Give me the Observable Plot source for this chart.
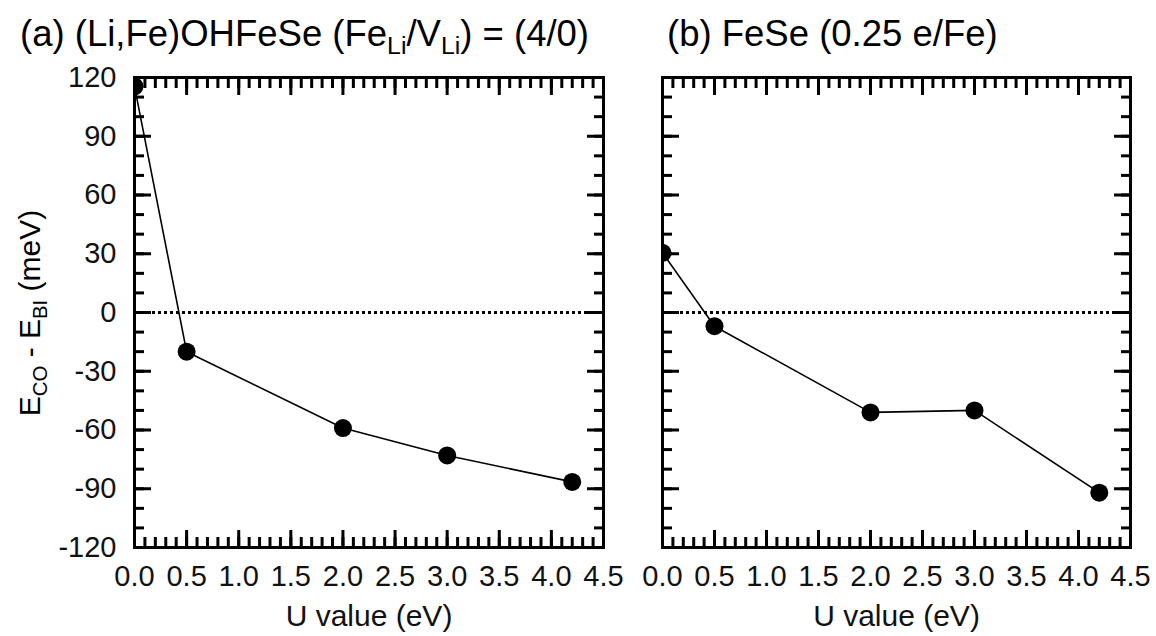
<!DOCTYPE html>
<html>
<head>
<meta charset="utf-8">
<script src="https://cdn.jsdelivr.net/npm/d3@7"></script>
<script src="https://cdn.jsdelivr.net/npm/@observablehq/plot@0.6"></script>
<style>
  body { margin: 0; background: #fff; font-family: "Liberation Sans", Arial, sans-serif; color: #000; }
  #wrap { position: relative; width: 1156px; height: 636px; overflow: hidden; background: #fff; }
  .title { position: absolute; top: 16px; font-size: 36.5px; line-height: 1; white-space: nowrap; }
  .title sub, .ylab sub { font-size: 0.68em; vertical-align: baseline; position: relative; top: 0.32em; }
  .ylab { position: absolute; left: 30px; top: 313px; font-size: 30px; line-height: 1; white-space: nowrap;
          transform: translate(-50%, -50%) rotate(-90deg); }
  .panel { position: absolute; top: 60px; }
  .panel svg { overflow: visible; }
</style>
</head>
<body>
<div id="wrap">
  <div class="title" style="left:20px">(a) (Li,Fe)OHFeSe (Fe<sub>Li</sub>/V<sub>Li</sub>) = (4/0)</div>
  <div class="title" style="left:667px">(b) FeSe (0.25 e/Fe)</div>
  <div class="ylab">E<sub>CO</sub> - E<sub>BI</sub> (meV)</div>
  <div class="panel" id="pa" style="left:0px"></div>
  <div class="panel" id="pb" style="left:632px"></div>
</div>
<script>
// U values (eV) and energy differences (meV)
const uA = [0.0, 0.5, 2.0, 3.0, 4.2];
const eA = [115.5, -20, -59, -73, -86.5];
const uB = [0.0, 0.5, 2.0, 3.0, 4.2];
const eB = [30.5, -7, -51, -50, -92];

const xMajor = [0.0, 0.5, 1.0, 1.5, 2.0, 2.5, 3.0, 3.5, 4.0, 4.5];
const xMinor = d3.range(0, 45).map(i => i / 10).concat([4.5]);
const yMajor = [-120, -90, -60, -30, 0, 30, 60, 90, 120];
const yMinor = d3.range(-12, 13).map(i => i * 10);
const xLabel = "U value (eV)";

function panel({u, e, width, marginLeft, marginRight, yLabels}) {
  const data = u.map((x, i) => ({u: x, e: e[i]}));
  const tickOpts = {strokeWidth: 3, stroke: "#000", fill: "none", label: null};
  const marks = [
    Plot.ruleY([0], {strokeWidth: 3, strokeDasharray: "3,3", stroke: "#000"}),
    Plot.line(data, {x: "u", y: "e", strokeWidth: 1.6, stroke: "#000"}),
    Plot.dot(data, {x: "u", y: "e", r: 9, fill: "#000", stroke: null, clip: true}),
    Plot.axisX(xMinor, {anchor: "bottom", tickSize: -10, ...tickOpts}),
    Plot.axisX(xMajor, {anchor: "bottom", tickSize: -17, ...tickOpts}),
    Plot.axisX(xMinor, {anchor: "top", tickSize: -10, ...tickOpts}),
    Plot.axisX(xMajor, {anchor: "top", tickSize: -17, ...tickOpts}),
    Plot.axisY(yMinor, {anchor: "left", tickSize: -10, ...tickOpts}),
    Plot.axisY(yMajor, {anchor: "left", tickSize: -17, ...tickOpts}),
    Plot.axisY(yMinor, {anchor: "right", tickSize: -10, ...tickOpts}),
    Plot.axisY(yMajor, {anchor: "right", tickSize: -17, ...tickOpts}),
    Plot.axisX(xMajor, {anchor: "bottom", tickSize: 0, tickPadding: 18, tickFormat: d => d.toFixed(1),
      label: null, fill: "#111"}),
    Plot.axisX([], {anchor: "bottom", tickSize: 0, label: xLabel, labelAnchor: "center", labelArrow: "none",
      labelOffset: 78, fill: "#111", fontSize: 30}),
    Plot.frame({strokeWidth: 3, stroke: "#000"})
  ];
  if (yLabels) {
    marks.push(Plot.axisY(yMajor, {anchor: "left", tickSize: 0, tickPadding: 18, tickFormat: d => String(d), label: null, fill: "#111"}));
  }
  return Plot.plot({
    width, height: 576,
    marginTop: 17, marginBottom: 89, marginLeft, marginRight,
    style: {fontFamily: "'Liberation Sans', Arial, sans-serif", fontSize: "29px", color: "#000", background: "transparent", overflow: "visible"},
    x: {domain: [0, 4.5]},
    y: {domain: [-120, 120]},
    marks
  });
}

document.getElementById("pa").append(panel({u: uA, e: eA, width: 632, marginLeft: 134, marginRight: 29, yLabels: true}));
document.getElementById("pb").append(panel({u: uB, e: eB, width: 524, marginLeft: 30, marginRight: 26, yLabels: false}));
</script>
</body>
</html>
